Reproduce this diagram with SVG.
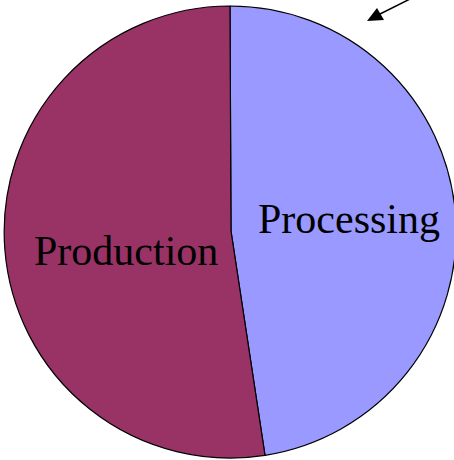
<svg xmlns="http://www.w3.org/2000/svg" width="454" height="460" viewBox="0 0 454 460">
<style>
.slice{stroke:#000;stroke-width:1.2;stroke-linejoin:round}
.lbl{font-family:"Liberation Serif","Times New Roman",serif;font-size:42px;fill:#000}
</style>
<rect width="454" height="460" fill="#fff"/>
<g id="processing">
<path class="slice" fill="#9999FF" d="M231,231 L230,6 A226,226 0 0 1 265,455.3 Z"/>
<text class="lbl" x="258" y="233">Processing</text>
</g>
<g id="production">
<path class="slice" fill="#993366" d="M231,231 L265,455.3 A226,226 0 1 1 230,6 Z"/>
<text class="lbl" x="34" y="265">Production</text>
</g>
<g id="connectors">
<line x1="410" y1="-1" x2="370" y2="19" stroke="#000" stroke-width="1.5"/>
<path d="M367,21 L377,8 L384,20 Z" fill="#000"/>
</g>
</svg>
